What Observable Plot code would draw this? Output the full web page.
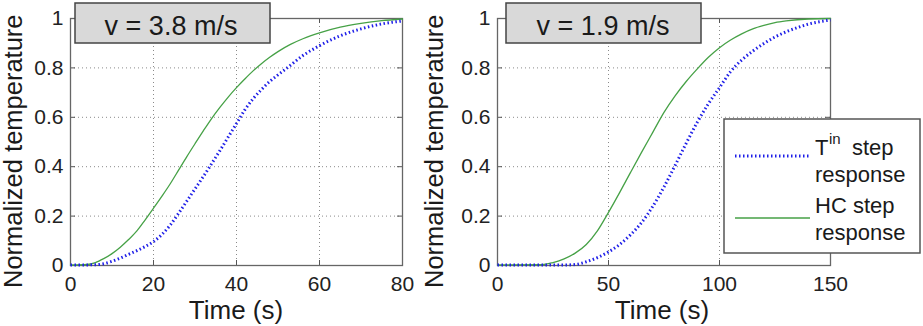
<!DOCTYPE html>
<html><head><meta charset="utf-8">
<script src="https://cdn.jsdelivr.net/npm/d3@7"></script>
<script src="https://cdn.jsdelivr.net/npm/@observablehq/plot@0.6"></script>
<style>
html,body{margin:0;padding:0;background:#fff;}
#wrap{position:relative;width:923px;height:326px;overflow:hidden;font-family:"Liberation Sans",Arial,sans-serif;}
#wrap > svg{position:absolute;top:0;}
</style></head><body><div id="wrap"></div>
<script>
// ---- data ----
const yTicks = [0, 0.2, 0.4, 0.6, 0.8, 1];
const leftTicks = [0, 20, 40, 60, 80];
const rightTicks = [0, 50, 100, 150];
const panelTitles = ["v = 3.8 m/s", "v = 1.9 m/s"];
const seriesNames = ["Tin step response", "HC step response"];

// v = 3.8 m/s
const leftHcT = [0, 4, 6, 8, 10, 12, 14, 16, 18, 20, 22, 24, 26, 28, 30, 32, 34, 36, 38, 40, 42, 44, 46, 48, 50, 53, 56, 60, 65, 70, 75, 80];
const leftHcV = [0.002, 0.004, 0.012, 0.028, 0.048, 0.074, 0.105, 0.14, 0.185, 0.232, 0.28, 0.33, 0.385, 0.44, 0.493, 0.545, 0.595, 0.64, 0.682, 0.72, 0.755, 0.788, 0.817, 0.843, 0.866, 0.895, 0.918, 0.942, 0.965, 0.98, 0.991, 0.998];
const leftTinT = [0, 6, 8, 10, 12, 14, 16, 18, 20, 22, 24, 26, 28, 30, 32, 34, 36, 38, 40, 42, 44, 46, 48, 50, 52, 56, 60, 65, 70, 75, 80];
const leftTinV = [0.002, 0.003, 0.007, 0.017, 0.03, 0.045, 0.06, 0.077, 0.097, 0.125, 0.163, 0.21, 0.26, 0.31, 0.36, 0.412, 0.465, 0.52, 0.575, 0.63, 0.675, 0.712, 0.745, 0.772, 0.797, 0.85, 0.89, 0.93, 0.958, 0.978, 0.99];

// v = 1.9 m/s
const rightHcT = [0, 20, 25, 30, 35, 40, 45, 50, 55, 60, 65, 70, 75, 80, 85, 90, 95, 100, 105, 110, 115, 120, 125, 130, 140, 150];
const rightHcV = [0.002, 0.003, 0.012, 0.027, 0.05, 0.085, 0.14, 0.215, 0.295, 0.378, 0.46, 0.54, 0.62, 0.687, 0.745, 0.796, 0.843, 0.882, 0.913, 0.938, 0.958, 0.972, 0.983, 0.99, 0.998, 1.0];
const rightTinT = [0, 30, 35, 40, 45, 50, 55, 60, 65, 70, 75, 80, 85, 90, 95, 100, 105, 110, 115, 120, 125, 130, 135, 140, 145, 150];
const rightTinV = [0.002, 0.002, 0.004, 0.015, 0.032, 0.055, 0.085, 0.125, 0.175, 0.24, 0.318, 0.405, 0.495, 0.58, 0.655, 0.72, 0.785, 0.832, 0.868, 0.899, 0.925, 0.946, 0.963, 0.977, 0.987, 0.994];

const FONT = '"Liberation Sans", Arial, sans-serif';
const GREEN = "#46a146";
const BLUE = "#1f1fe8";
const DOTS = "1.5,2.5";

function panel({hcT, hcV, tinT, tinV, xDomain, xTicks, width, marginLeft, marginRight}) {
  const hc = hcT.map((t, i) => ({t, v: hcV[i]}));
  const tin = tinT.map((t, i) => ({t, v: tinV[i]}));
  const H = 326, mt = 18, mb = 61;
  const ph = H - mt - mb, pw = width - marginLeft - marginRight;
  return Plot.plot({
    width, height: H, marginLeft, marginRight, marginTop: mt, marginBottom: mb,
    style: {fontFamily: FONT, fontSize: "21px", color: "#222", background: "transparent", overflow: "visible"},
    x: {domain: xDomain},
    y: {domain: [0, 1]},
    marks: [
      Plot.gridX(xTicks, {stroke: "#8a8a8a", strokeOpacity: 1, strokeDasharray: "1,3"}),
      Plot.gridY(yTicks, {stroke: "#8a8a8a", strokeOpacity: 1, strokeDasharray: "1,3"}),
      Plot.ruleX(xTicks, {x: d => d, insetTop: ph - 5, stroke: "#555"}),
      Plot.ruleX(xTicks, {x: d => d, insetBottom: ph - 5, stroke: "#555"}),
      Plot.ruleY(yTicks, {y: d => d, insetRight: pw - 5, stroke: "#555"}),
      Plot.ruleY(yTicks, {y: d => d, insetLeft: pw - 5, stroke: "#555"}),
      Plot.frame({stroke: "#666", strokeWidth: 1.3}),
      Plot.axisX(xTicks, {tickSize: 0, tickPadding: 11, label: null, tickFormat: d => String(d), fontSize: 21}),
      Plot.axisY(yTicks, {tickSize: 0, tickPadding: 7, label: null, tickFormat: d => String(d), fontSize: 21}),
      Plot.line(hc, {x: "t", y: "v", stroke: GREEN, strokeWidth: 1.3, curve: "monotone-x"}),
      Plot.line(tin, {x: "t", y: "v", stroke: BLUE, strokeWidth: 3, strokeDasharray: DOTS, strokeLinecap: "butt", curve: "monotone-x"})
    ]
  });
}

const wrap = document.getElementById("wrap");
const left = panel({hcT: leftHcT, hcV: leftHcV, tinT: leftTinT, tinV: leftTinV,
  xDomain: [0, 80], xTicks: leftTicks, width: 420, marginLeft: 70, marginRight: 18});
left.style.left = "0px";
wrap.appendChild(left);
const right = panel({hcT: rightHcT, hcV: rightHcV, tinT: rightTinT, tinV: rightTinV,
  xDomain: [0, 150], xTicks: rightTicks, width: 503, marginLeft: 77, marginRight: 93});
right.style.left = "420px";
wrap.appendChild(right);

// ---- overlay: axis titles, panel titles, legend ----
const ns = "http://www.w3.org/2000/svg";
const ov = document.createElementNS(ns, "svg");
ov.setAttribute("width", 923); ov.setAttribute("height", 326);
ov.style.left = "0px";
ov.setAttribute("font-family", FONT);
ov.setAttribute("fill", "#1a1a1a");
function el(tag, attrs, text) {
  const e = document.createElementNS(ns, tag);
  for (const k in attrs) e.setAttribute(k, attrs[k]);
  if (text != null) e.textContent = text;
  ov.appendChild(e); return e;
}
// y-axis titles
el("text", {x: 22, y: 288, transform: "rotate(-90 22 288)", "font-size": 25.5}, "Normalized temperature");
el("text", {x: 443, y: 288, transform: "rotate(-90 443 288)", "font-size": 25.5}, "Normalized temperature");
// x-axis titles
el("text", {x: 236, y: 319, "text-anchor": "middle", "font-size": 26}, "Time (s)");
el("text", {x: 662, y: 319, "text-anchor": "middle", "font-size": 26}, "Time (s)");
// panel titles
el("rect", {x: 75, y: 3, width: 195, height: 40, fill: "#d9d9d9", stroke: "#444", "stroke-width": 1.5});
el("text", {x: 171, y: 35, "text-anchor": "middle", "font-size": 27}, panelTitles[0]);
el("rect", {x: 506, y: 3, width: 195, height: 40, fill: "#d9d9d9", stroke: "#444", "stroke-width": 1.5});
el("text", {x: 603, y: 35, "text-anchor": "middle", "font-size": 27}, panelTitles[1]);
// legend
el("rect", {x: 724, y: 119, width: 196, height: 134, fill: "#fff", stroke: "#555", "stroke-width": 1.5});
el("line", {x1: 735, x2: 810, y1: 156, y2: 156, stroke: BLUE, "stroke-width": 3, "stroke-dasharray": DOTS});
el("line", {x1: 735, x2: 810, y1: 218, y2: 218, stroke: GREEN, "stroke-width": 1.5});
el("text", {x: 815, y: 155, "font-size": 22}, "T");
el("text", {x: 829, y: 144, "font-size": 15}, "in");
el("text", {x: 852, y: 155, "font-size": 22}, "step");
el("text", {x: 815, y: 182, "font-size": 22}, "response");
el("text", {x: 815, y: 213, "font-size": 22}, "HC step");
el("text", {x: 815, y: 240, "font-size": 22}, "response");
wrap.appendChild(ov);
</script>
</body></html>
